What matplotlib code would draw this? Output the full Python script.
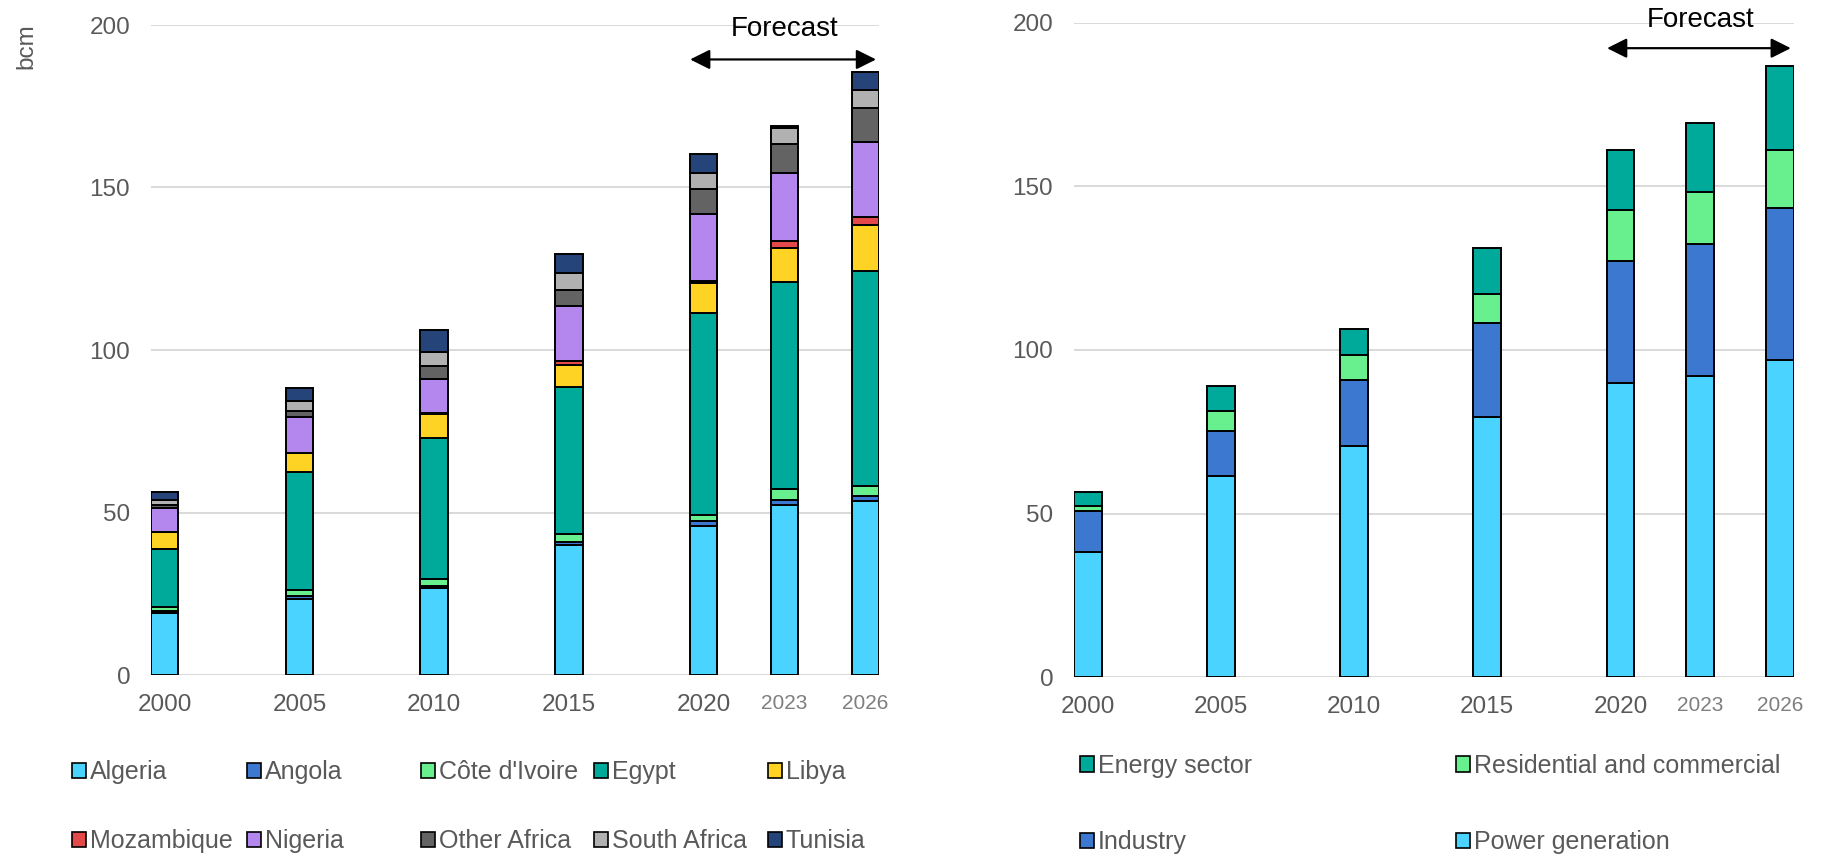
import matplotlib.pyplot as plt
from matplotlib.patches import Patch

plt.rcParams['font.family'] = ['Liberation Sans', 'DejaVu Sans']

W, H = 1827, 855

# ---------------------------
# Data (bcm)
# ---------------------------
years = [2000, 2005, 2010, 2015, 2020, 2023, 2026]
year_labels = ['2000', '2005', '2010', '2015', '2020', '2023', '2026']

# left panel: demand by country
countries = ['Algeria', 'Angola', "Côte d'Ivoire", 'Egypt', 'Libya',
             'Mozambique', 'Nigeria', 'Other Africa', 'South Africa', 'Tunisia']
algeria = [19.0, 23.4, 26.7, 40.0, 45.9, 52.4, 53.6]
angola = [0.8, 1.0, 0.8, 1.0, 1.5, 1.5, 1.5]
cote_divoire = [1.2, 1.8, 2.0, 2.3, 1.9, 3.3, 3.2]
egypt = [17.8, 36.3, 43.3, 45.2, 62.1, 63.7, 65.9]
libya = [5.2, 5.9, 7.4, 7.0, 9.3, 10.5, 14.2]
mozambique = [0.0, 0.0, 0.3, 1.2, 0.5, 2.1, 2.6]
nigeria = [7.5, 10.9, 10.6, 16.8, 20.5, 21.1, 23.0]
other_africa = [0.7, 2.0, 3.9, 5.1, 7.7, 8.9, 10.4]
south_africa = [1.5, 3.1, 4.5, 5.1, 5.2, 4.9, 5.6]
tunisia = [2.6, 4.0, 6.6, 5.9, 5.8, 0.5, 5.4]

# right panel: demand by sector
sectors = ['Power generation', 'Industry', 'Residential and commercial', 'Energy sector']
power = [38.1, 61.6, 70.5, 79.5, 89.8, 92.2, 96.9]
industry = [12.7, 13.5, 20.4, 28.7, 37.5, 40.3, 46.5]
residential = [1.4, 6.3, 7.6, 8.9, 15.5, 15.9, 17.7]
energy = [4.4, 7.7, 7.9, 14.0, 18.3, 21.0, 25.9]

country_colors = ['#4ad3ff', '#3c78d0', '#68f08f', '#00aa9b', '#ffd324',
                  '#e34949', '#b387ee', '#636363', '#b1b1b1', '#24447a']
sector_colors = ['#4ad3ff', '#3c78d0', '#68f08f', '#00aa9b']

grey = '#595959'


def stacked(ax, series, colors, width):
    bottom = [0.0] * len(years)
    for vals, c in zip(series, colors):
        ax.bar(years, vals, width=width, bottom=bottom, color=c,
               edgecolor='black', linewidth=1.4, zorder=3)
        bottom = [b + v for b, v in zip(bottom, vals)]


def style(ax, width):
    for s in ax.spines.values():
        s.set_visible(False)
    ax.set_ylim(0, 200)
    ax.set_yticks([0, 50, 100, 150, 200])
    ax.set_xlim(2000 - width / 2, 2026 + width / 2)
    ax.set_xticks(years)
    ax.set_xticklabels(year_labels)
    ax.tick_params(axis='both', length=0, labelsize=17.5, labelcolor=grey)
    ax.tick_params(axis='y', pad=15)
    ax.tick_params(axis='x', pad=13.5)
    for lab in ax.get_xticklabels()[-2:]:
        lab.set_fontsize(15)
        lab.set_color('#7f7f7f')
    ax.yaxis.grid(True, color='#d9d9d9', linewidth=1.4, zorder=0)
    ax.set_axisbelow(True)


def forecast(ax, y_arrow, y_text):
    ax.annotate('', xy=(2026.4, y_arrow), xytext=(2019.5, y_arrow),
                arrowprops=dict(arrowstyle='<|-|>,head_length=0.8,head_width=0.4',
                                color='black', lw=1.6, mutation_scale=15,
                                shrinkA=0, shrinkB=0),
                annotation_clip=False, zorder=5)
    ax.text(2023, y_text, 'Forecast', ha='center', va='center',
            fontsize=20, color='black', clip_on=False)


def column_legend(fig, entries, x_px, y_px, spacing):
    handles = [Patch(facecolor=c, edgecolor='black', linewidth=1.2) for _, c in entries]
    labels = [n for n, _ in entries]
    fig.legend(handles, labels, loc='center left',
               bbox_to_anchor=(x_px / W, 1 - y_px / H), frameon=False,
               borderpad=0, borderaxespad=0, handlelength=0.56, handleheight=0.56,
               handletextpad=0.16, labelspacing=spacing, fontsize=18,
               labelcolor=grey)


fig = plt.figure(figsize=(W / 100, H / 100), dpi=100)

# ---------------------------
# Left: by country
# ---------------------------
ax1 = fig.add_axes([151 / W, 1 - 675 / H, (879 - 151) / W, 650 / H])
wl = 1.02
stacked(ax1, [algeria, angola, cote_divoire, egypt, libya, mozambique,
              nigeria, other_africa, south_africa, tunisia], country_colors, wl)
style(ax1, wl)
forecast(ax1, 189.4, 198.8)
fig.text(26 / W, 1 - 46 / H, 'bcm', rotation=90, ha='center', va='center',
         fontsize=17.5, color=grey)

col_x = [72, 247, 421, 594, 768]
for i, x in enumerate(col_x):
    entries = [(countries[i], country_colors[i]), (countries[i + 5], country_colors[i + 5])]
    column_legend(fig, entries, x, 806.5, 1.8)

# ---------------------------
# Right: by sector
# ---------------------------
ax2 = fig.add_axes([1074 / W, 1 - 677 / H, (1794 - 1074) / W, 654 / H])
wr = 1.04
stacked(ax2, [power, industry, residential, energy], sector_colors, wr)
style(ax2, wr)
forecast(ax2, 192.3, 201.0)

column_legend(fig, [(sectors[3], sector_colors[3]), (sectors[1], sector_colors[1])],
              1080, 804, 2.1)
column_legend(fig, [(sectors[2], sector_colors[2]), (sectors[0], sector_colors[0])],
              1456, 804, 2.1)

fig.savefig('out.png', dpi=100)
